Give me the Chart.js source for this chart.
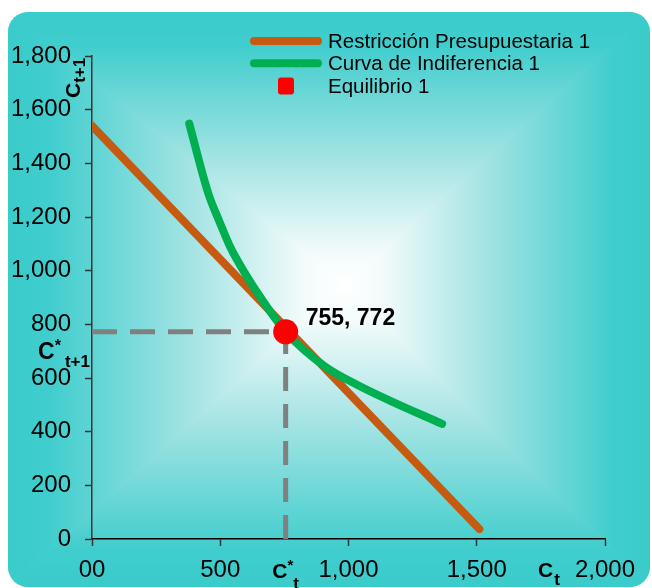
<!DOCTYPE html>
<html>
<head>
<meta charset="utf-8">
<script src="https://cdn.jsdelivr.net/npm/chart.js@4.4.1/dist/chart.umd.min.js"></script>
<style>
  html, body { margin: 0; padding: 0; background: #ffffff; }
  canvas { display: block; }
</style>
</head>
<body>
<canvas id="chart" width="652" height="588"></canvas>
<script>
// ---- data ----
const xTickValues = [0, 500, 1000, 1500, 2000];
const xTickLabels = ['00', '500', '1,000', '1,500', '2,000'];
const yTickValues = [0, 200, 400, 600, 800, 1000, 1200, 1400, 1600, 1800];
const yTickLabels = ['0', '200', '400', '600', '800', '1,000', '1,200', '1,400', '1,600', '1,800'];

const seriesNames = ['Restricción Presupuestaria 1', 'Curva de Indiferencia 1', 'Equilibrio 1'];

// budget constraint (straight line)
const budgetX = [0, 1510];
const budgetY = [1540, 37];

// indifference curve
const curveX = [379, 453, 499, 538, 596, 668, 755, 908, 1033, 1163, 1365];
const curveY = [1548, 1289, 1178, 1090, 991, 885, 772, 643, 575, 515, 429];

// optimum
const eqX = [755];
const eqY = [772];

// ---- styling ----
const FONT = '"Liberation Sans", Arial, Helvetica, sans-serif';
const COL_BUDGET = '#c55a11';
const COL_CURVE = '#00b050';
const COL_EQ = '#ff0000';
const COL_GUIDE = '#808080';
const COL_EDGE = '#3acbcb';

const toPoints = (xs, ys) => xs.map((x, i) => ({ x, y: ys[i] }));

// panel with a rectangular "from centre" gradient
const panelBackground = {
  id: 'panelBackground',
  beforeDraw(chart) {
    const ctx = chart.ctx;
    ctx.save();
    ctx.fillStyle = '#ffffff';
    ctx.fillRect(0, 0, chart.width, chart.height);
    const x0 = 8, y0 = 12, x1 = 650, y1 = 587, r = 20;
    const cx = 345, cy = 285;
    ctx.beginPath();
    ctx.roundRect(x0, y0, x1 - x0, y1 - y0, r);
    ctx.clip();
    const tri = (pts, gx0, gy0, gx1, gy1) => {
      const g = ctx.createLinearGradient(gx0, gy0, gx1, gy1);
      g.addColorStop(0, COL_EDGE);
      g.addColorStop(0.12, '#40cdcd');
      g.addColorStop(0.55, '#a6e4e4');
      g.addColorStop(0.88, '#f3fbfb');
      g.addColorStop(1, '#ffffff');
      ctx.beginPath();
      ctx.moveTo(pts[0][0], pts[0][1]);
      ctx.lineTo(pts[1][0], pts[1][1]);
      ctx.lineTo(pts[2][0], pts[2][1]);
      ctx.closePath();
      ctx.fillStyle = g;
      ctx.strokeStyle = g;
      ctx.lineWidth = 1;
      ctx.fill();
      ctx.stroke();
    };
    tri([[x0, y0], [x1, y0], [cx, cy]], 0, y0, 0, cy);
    tri([[x1, y0], [x1, y1], [cx, cy]], x1, 0, cx, 0);
    tri([[x1, y1], [x0, y1], [cx, cy]], 0, y1, 0, cy);
    tri([[x0, y1], [x0, y0], [cx, cy]], x0, 0, cx, 0);
    ctx.restore();
  }
};

// text with sub/superscripts: parts = [text, size, baselineShift, gapBefore]
function richWidth(ctx, parts) {
  let w = 0;
  for (const [t, size, , gap] of parts) {
    ctx.font = `bold ${size}px ${FONT}`;
    w += (gap || 0) + ctx.measureText(t).width;
  }
  return w;
}
function richText(ctx, x, y, parts) {
  let px = x;
  for (const [t, size, dy, gap] of parts) {
    ctx.font = `bold ${size}px ${FONT}`;
    px += gap || 0;
    ctx.fillText(t, px, y + dy);
    px += ctx.measureText(t).width;
  }
}

// legend, axis titles and the value label of the optimum
const annotations = {
  id: 'annotations',
  afterDraw(chart) {
    const ctx = chart.ctx;
    const xs = chart.scales.x, ys = chart.scales.y;
    ctx.save();
    ctx.fillStyle = '#000000';
    ctx.textAlign = 'left';
    ctx.textBaseline = 'alphabetic';

    // legend
    const items = [
      { label: seriesNames[0], color: COL_BUDGET, kind: 'line' },
      { label: seriesNames[1], color: COL_CURVE, kind: 'line' },
      { label: seriesNames[2], color: COL_EQ, kind: 'box' }
    ];
    const lx0 = 250, lx1 = 322, tx = 328, ly0 = 41, step = 22.3;
    items.forEach((it, i) => {
      const yy = ly0 + i * step;
      if (it.kind === 'line') {
        ctx.strokeStyle = it.color;
        ctx.lineWidth = 8;
        ctx.lineCap = 'round';
        ctx.beginPath();
        ctx.moveTo(lx0 + 4, yy);
        ctx.lineTo(lx1 - 4, yy);
        ctx.stroke();
      } else {
        ctx.fillStyle = it.color;
        ctx.beginPath();
        ctx.roundRect((lx0 + lx1) / 2 - 8, yy - 8, 16, 17, 3);
        ctx.fill();
      }
      ctx.fillStyle = '#000000';
      ctx.font = `20.5px ${FONT}`;
      ctx.fillText(it.label, tx, yy + 7);
    });

    // vertical axis title C(t+1)
    ctx.save();
    ctx.translate(80, 98);
    ctx.rotate(-Math.PI / 2);
    richText(ctx, 0, 0, [['C', 21, 0], ['t+1', 17, 5, 0]]);
    ctx.restore();

    // horizontal axis title C(t)
    const ctX = xs.getPixelForValue(2000) - 67;
    richText(ctx, ctX, 577, [['C', 21, 0], ['t', 17, 8, 1]]);

    // optimum guides' labels
    const px = xs.getPixelForValue(eqX[0]);
    const py = ys.getPixelForValue(eqY[0]);
    const partsY = [['C', 23, 0], ['*', 16, -8, 0], ['t+1', 17, 8, 4]];
    const wY = richWidth(ctx, partsY);
    richText(ctx, xs.left - 2 - wY, py + 27, partsY);

    const partsX = [['C', 21, 0], ['*', 15, -8, 0], ['t', 17, 11, 0]];
    const wX = richWidth(ctx, partsX);
    richText(ctx, px - wX / 2, 578, partsX);

    // value label of the optimum
    ctx.font = `bold 23px ${FONT}`;
    ctx.fillText(`${eqX[0]}, ${eqY[0]}`, px + 20, py - 7);
    ctx.restore();
  }
};

new Chart(document.getElementById('chart'), {
  type: 'scatter',
  data: {
    datasets: [
      {
        label: seriesNames[0],
        data: toPoints(budgetX, budgetY),
        showLine: true,
        borderColor: COL_BUDGET,
        borderWidth: 8,
        borderCapStyle: 'round',
        pointRadius: 0,
        order: 3
      },
      {
        label: seriesNames[1],
        data: toPoints(curveX, curveY),
        showLine: true,
        borderColor: COL_CURVE,
        borderWidth: 8,
        borderCapStyle: 'round',
        borderJoinStyle: 'round',
        cubicInterpolationMode: 'monotone',
        pointRadius: 0,
        order: 2
      },
      {
        label: seriesNames[2],
        data: toPoints(eqX, eqY),
        pointRadius: 12.5,
        pointBackgroundColor: COL_EQ,
        pointBorderWidth: 0,
        order: 0
      },
      {
        label: 'guide-h',
        data: [{ x: 0, y: eqY[0] }, { x: eqX[0], y: eqY[0] }],
        showLine: true,
        borderColor: COL_GUIDE,
        borderWidth: 5,
        borderDash: [25, 13],
        pointRadius: 0,
        order: 5
      },
      {
        label: 'guide-v',
        data: [{ x: eqX[0], y: 0 }, { x: eqX[0], y: eqY[0] }],
        showLine: true,
        borderColor: COL_GUIDE,
        borderWidth: 5,
        borderDash: [24, 13],
        pointRadius: 0,
        order: 5
      }
    ]
  },
  options: {
    responsive: false,
    animation: false,
    devicePixelRatio: 1,
    layout: { padding: { left: 0, right: 47, top: 56, bottom: 0 } },
    plugins: {
      legend: { display: false },
      tooltip: { enabled: false }
    },
    scales: {
      x: {
        type: 'linear',
        min: 0,
        max: 2000,
        afterBuildTicks: s => { s.ticks = xTickValues.map(v => ({ value: v })); },
        afterFit: s => { s.height = 49; },
        ticks: {
          callback: (v, i) => xTickLabels[i],
          color: '#000000',
          font: { family: FONT, size: 24 },
          padding: 10,
          maxRotation: 0,
          autoSkip: false
        },
        grid: { drawOnChartArea: false, drawTicks: true, tickLength: 7, tickColor: '#333333', tickWidth: 1.5 },
        border: { color: '#000000', width: 1.5 }
      },
      y: {
        type: 'linear',
        min: 0,
        max: 1800,
        afterBuildTicks: s => { s.ticks = yTickValues.map(v => ({ value: v })); },
        afterFit: s => { s.width = 92; },
        ticks: {
          callback: (v, i) => yTickLabels[i],
          color: '#000000',
          font: { family: FONT, size: 24 },
          padding: 14,
          autoSkip: false
        },
        grid: { drawOnChartArea: false, drawTicks: true, tickLength: 7, tickColor: '#333333', tickWidth: 1.5 },
        border: { color: '#333333', width: 1.5 }
      }
    }
  },
  plugins: [panelBackground, annotations]
});
</script>
</body>
</html>
